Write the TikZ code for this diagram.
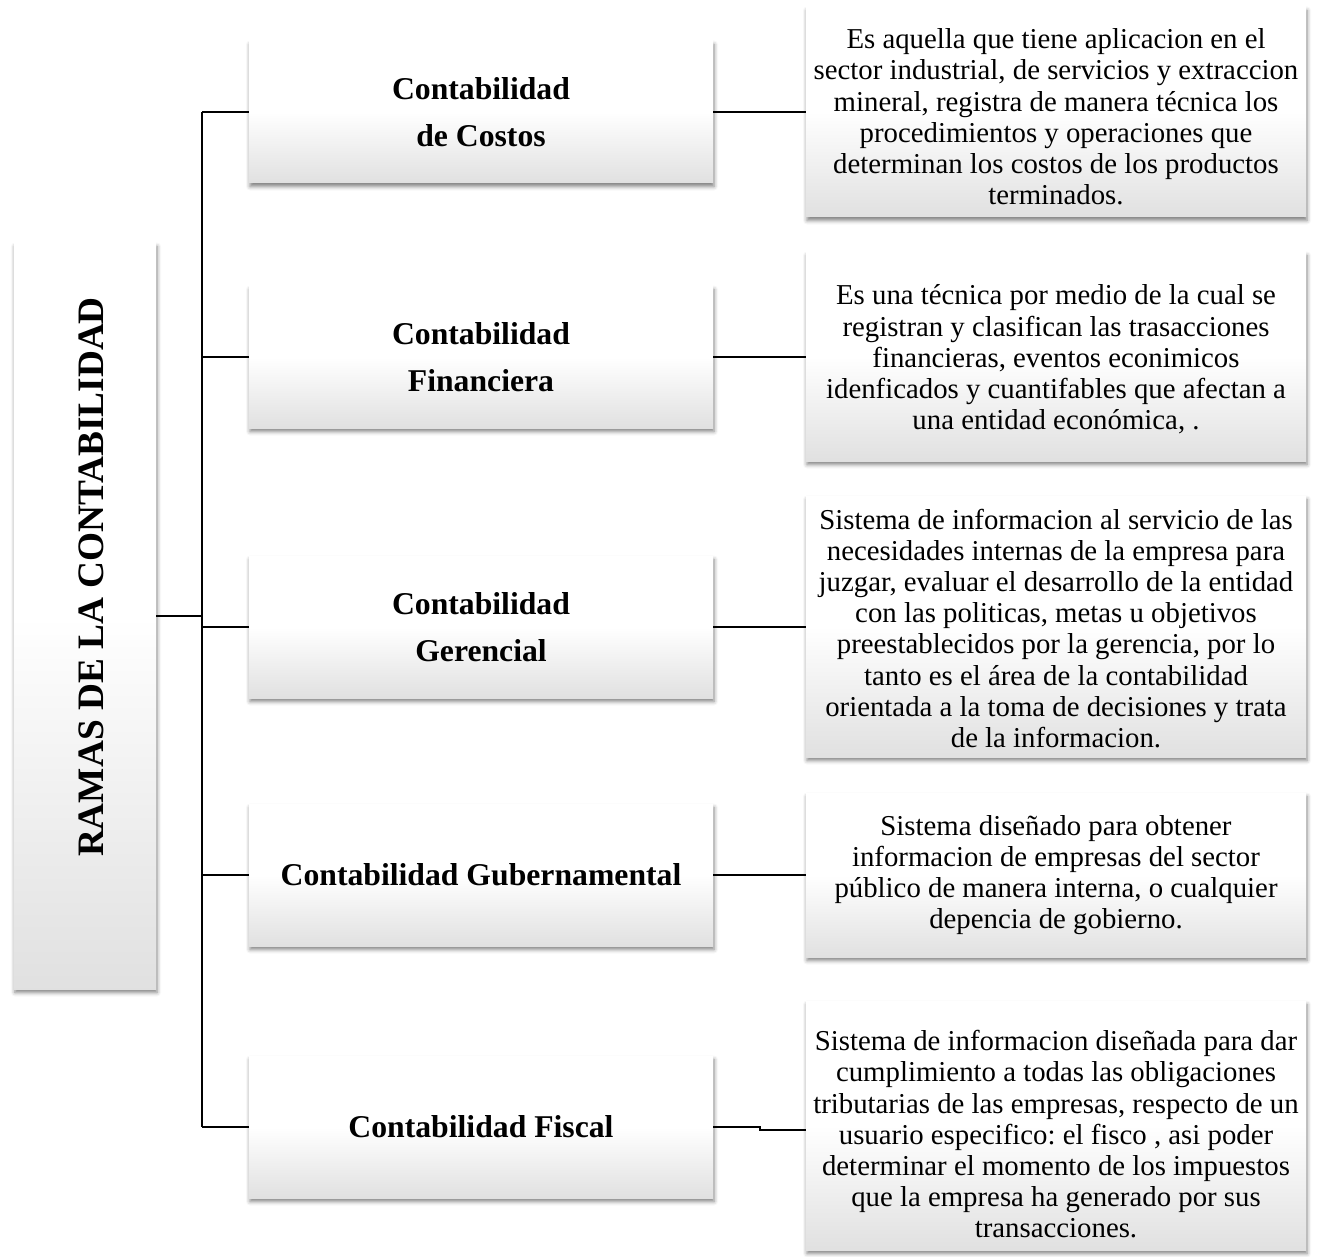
\documentclass[tikz,border=0pt]{standalone}
\usepackage{fontspec}
\setmainfont{Liberation Serif}
\frenchspacing
\usetikzlibrary{shadows.blur}
\pgfdeclareverticalshading{boxgrad}{100bp}{color(0bp)=(black!12); color(25bp)=(black!12); color(50bp)=(white); color(75bp)=(white); color(100bp)=(white)}
\newcommand{\topstrut}[1]{\rule{0pt}{#1}}
\tikzset{
  box/.style={rectangle, draw=none, shading=boxgrad, inner sep=0pt,
    blur shadow={shadow xshift=1pt, shadow yshift=-3.5pt, shadow blur radius=4pt, shadow opacity=50}},
  midbox/.style={box, minimum width=464pt, minimum height=142pt, align=center,
    font=\fontsize{31.7}{47}\selectfont\bfseries},
  descbox/.style={box, minimum width=500pt, align=center,
    font=\fontsize{28.8}{31.2}\selectfont},
  conn/.style={draw=black, line width=2pt}
}
\begin{document}
\begin{tikzpicture}[x=1pt,y=-1pt]
\useasboundingbox (0,0) rectangle (1325,1257);
% root
\node[box, minimum width=142pt, minimum height=746pt] (root) at (85,616) {};
\node[rotate=90, font=\fontsize{37.3}{42}\selectfont\bfseries] (roott) at (91,577) {RAMAS DE LA CONTABILIDAD};
% middle boxes
\node[midbox] (c1) at (481,112) {Contabilidad\\de Costos};
\node[midbox] (c2) at (481,357) {Contabilidad\\Financiera};
\node[midbox] (c3) at (481,627) {Contabilidad\\Gerencial};
\node[midbox] (c4) at (481,875) {Contabilidad Gubernamental};
\node[midbox] (c5) at (481,1127) {Contabilidad Fiscal};
% description boxes
\node[descbox, minimum height=210pt] (d1) at (1056,112) {\topstrut{30pt}Es aquella que tiene aplicacion en el\\sector industrial, de servicios y extraccion\\mineral, registra de manera técnica los\\procedimientos y operaciones que\\determinan los costos de los productos\\terminados.};
\node[descbox, minimum height=209pt] (d2) at (1056,356.5) {\topstrut{26pt}Es una técnica por medio de la cual se\\registran y clasifican las trasacciones\\financieras, eventos econimicos\\idenficados y cuantifables que afectan a\\una entidad económica, .};
\node[descbox, minimum height=261pt] (d3) at (1056,626.5) {\topstrut{24pt}Sistema de informacion al servicio de las\\necesidades internas de la empresa para\\juzgar, evaluar el desarrollo de la entidad\\con las politicas, metas u objetivos\\preestablecidos por la gerencia, por lo\\tanto es el área de la contabilidad\\orientada a la toma de decisiones y trata\\de la informacion.};
\node[descbox, minimum height=164pt] (d4) at (1056,875) {Sistema diseñado para obtener\\informacion de empresas del sector\\público de manera interna, o cualquier\\depencia de gobierno.};
\node[descbox, minimum height=249pt] (d5) at (1056,1125.5) {\topstrut{38pt}Sistema de informacion diseñada para dar\\cumplimiento a todas las obligaciones\\tributarias de las empresas, respecto de un\\usuario especifico: el fisco , asi poder\\determinar el momento de los impuestos\\que la empresa ha generado por sus\\transacciones.};
% connectors
\coordinate (tr) at (202,0);
\draw[conn] (root.east) -- (root.east -| tr);
\draw[conn, line width=2.6pt] (c1.west -| tr) -- (c5.west -| tr);
\draw[conn] (c1.west) -- (c1.west -| tr);
\draw[conn] (c5.west -| tr) -- (c5.west);
\foreach \i in {2,3,4} {\draw[conn] (c\i.west -| tr) -- (c\i.west);}
\foreach \i in {1,2,3,4} {\draw[conn] (c\i.east) -- (c\i.east -| d\i.west);}
\coordinate (k5) at (760,1130);
\draw[conn] (c5.east) -- (c5.east -| k5) -- (k5) -- (k5 -| d5.west);
\end{tikzpicture}
\end{document}
